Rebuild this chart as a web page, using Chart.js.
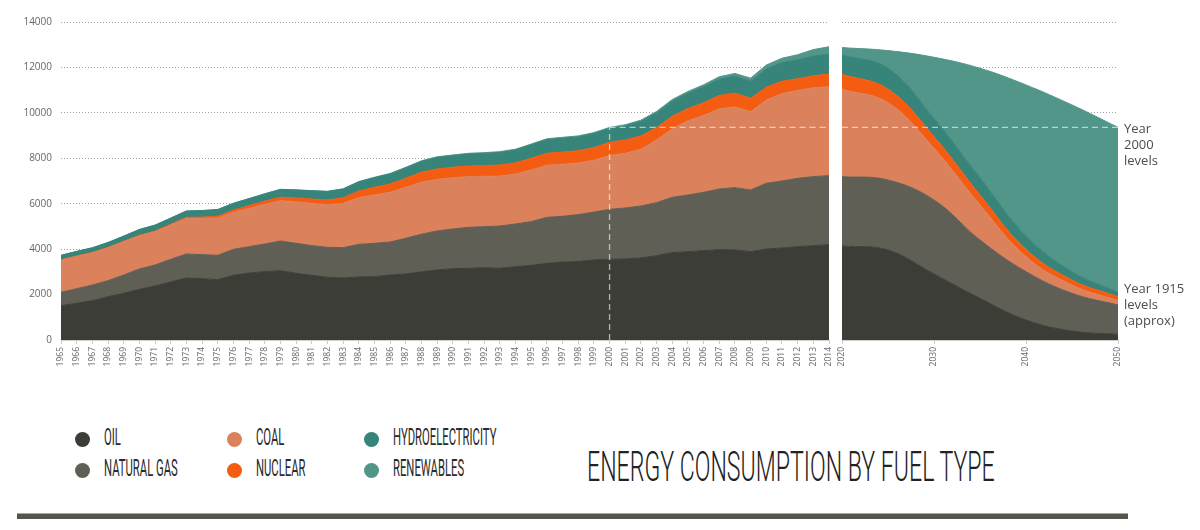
<!DOCTYPE html>
<html><head><meta charset="utf-8">
<script src="https://cdn.jsdelivr.net/npm/chart.js@4.4.1/dist/chart.umd.min.js"></script>
<style>
html,body{margin:0;padding:0;background:#fff;}
body{width:1200px;height:530px;position:relative;overflow:hidden;font-family:'Open Sans',sans-serif;}
#cl{position:absolute;left:0;top:0;}
#cr{position:absolute;left:836px;top:0;}
.note{position:absolute;left:1124px;font:13px/16px 'Open Sans',sans-serif;color:#4d4d4d;white-space:nowrap;}
#legend{position:absolute;left:75px;top:425px;display:grid;grid-template-columns:152px 137px 200px;grid-template-rows:31px 31px;grid-auto-flow:column;}
.item{position:relative;}
.dot{position:absolute;left:0;top:6.5px;width:15px;height:15px;border-radius:50%;}
.lt{position:absolute;left:29px;top:0;font:400 24px/24px Roboto,sans-serif;color:#2a2a2a;white-space:nowrap;transform-origin:0 0;transform:scaleX(0.47);}
#title{position:absolute;left:587px;top:446px;font:300 42px/42px Roboto,sans-serif;color:#222;white-space:nowrap;transform-origin:0 0;}
#bar{position:absolute;left:17px;top:513px;width:1111px;height:5px;background:#55554b;border-top:1px solid #a9a8a0;}
</style></head>
<body>
<canvas id="cl" width="836" height="380"></canvas>
<canvas id="cr" width="289" height="380"></canvas>
<div class="note" style="top:120px">Year<br>2000<br>levels</div>
<div class="note" style="top:280px">Year 1915<br>levels<br>(approx)</div>
<div id="legend"></div>
<div id="title">ENERGY CONSUMPTION BY FUEL TYPE</div>
<div id="bar"></div>
<script>
// ---------- DATA ----------
const years = ['1965','1966','1967','1968','1969','1970','1971','1972','1973','1974',
  '1975','1976','1977','1978','1979','1980','1981','1982','1983','1984',
  '1985','1986','1987','1988','1989','1990','1991','1992','1993','1994',
  '1995','1996','1997','1998','1999','2000','2001','2002','2003','2004',
  '2005','2006','2007','2008','2009','2010','2011','2012','2013','2014'];
const oil = [1512,1614,1732,1908,2055,2231,2378,2554,2730,2701,
  2657,2848,2950,3009,3053,2936,2848,2760,2730,2774,
  2789,2862,2906,3000,3082,3141,3155,3185,3155,3229,
  3287,3376,3430,3455,3523,3560,3567,3611,3713,3845,
  3890,3934,3978,3963,3890,4007,4051,4110,4154,4198];
const naturalGas = [587,646,690,705,807,895,924,998,1057,1057,
  1071,1144,1160,1218,1306,1321,1306,1320,1336,1438,
  1468,1453,1571,1660,1718,1747,1806,1805,1865,1879,
  1924,2026,2015,2065,2107,2194,2245,2289,2334,2437,
  2495,2568,2671,2745,2715,2892,2950,3009,3038,3038];
const coal = [1424,1430,1420,1453,1468,1468,1468,1512,1570,1599,
  1644,1630,1687,1747,1776,1834,1864,1879,1952,2055,
  2128,2187,2246,2290,2275,2260,2231,2217,2201,2201,
  2275,2290,2297,2275,2280,2366,2408,2496,2760,3018,
  3265,3383,3531,3552,3449,3669,3849,3866,3913,3914];
const nuclear = [6,8,9,12,14,18,25,35,45,55,
  80,95,120,140,150,160,190,210,240,290,
  340,370,400,440,455,456,470,470,485,490,
  514,528,535,540,559,584,587,587,545,555,
  540,560,585,610,590,560,545,515,530,560];
const hydro = [196,200,205,210,225,250,258,264,272,283,
  287,297,301,315,339,348,356,364,382,400,
  418,436,454,472,505,510,525,538,552,565,
  590,600,607,608,617,610,620,640,645,660,
  675,700,715,745,740,800,815,835,865,870];
const renewables = [4,4,5,5,5,6,6,6,7,7,
  8,8,9,10,11,12,14,16,18,20,
  22,24,26,28,30,32,33,34,35,36,
  37,38,40,42,44,45,50,55,65,72,
  78,90,110,120,145,175,195,225,285,330];

const projYears = [2020,2025,2030,2035,2040,2045,2050];
const oilProj = [4139,3960,2906,1835,881,396,249];
const gasProj = [3053,3085,3259,2568,2128,1659,1292];
const coalProj = [3846,3400,2275,1542,661,367,191];
const nuclearProj = [660,600,514,440,322,220,176];
const hydroProj = [852,920,800,760,600,367,191];
const renewablesProj = [323,775,2693,4817,6637,7339,7265];

const yTicks = [0,2000,4000,6000,8000,10000,12000,14000];
const projTicks = [2020,2030,2040,2050];

const seriesNames = ['OIL','NATURAL GAS','COAL','NUCLEAR','HYDROELECTRICITY','RENEWABLES'];
const seriesColors = ['#3d3d38','#605f55','#db825d','#f45c12','#37847a','#52968a'];

// ---------- BUILD ----------
const hist = [oil,naturalGas,coal,nuclear,hydro,renewables];
const proj = [oilProj,gasProj,coalProj,nuclearProj,hydroProj,renewablesProj];
const idx2000 = years.indexOf('2000');
const level2000 = hist.reduce((s,a)=>s+a[idx2000],0);

function makeSets(series, xs, smooth){
  return series.map((vals,i)=>({
    label: seriesNames[i],
    data: xs ? vals.map((v,j)=>({x:xs[j],y:v})) : vals,
    backgroundColor: seriesColors[i],
    borderColor: seriesColors[i],
    borderWidth: 1,
    fill: i===0 ? 'origin' : '-1',
    pointRadius: 0, pointHoverRadius: 0,
    tension: smooth ? 0.4 : 0
  }));
}

const dashPlugin = {
  id: 'dashlevel',
  afterDatasetsDraw(chart, args, opts){
    const {ctx, chartArea:a, scales} = chart;
    const yy = scales.y.getPixelForValue(level2000);
    ctx.save();
    ctx.strokeStyle = 'rgba(255,255,255,0.6)';
    ctx.lineWidth = 1.3;
    ctx.setLineDash([6,4]);
    ctx.beginPath();
    let x0 = a.left;
    if (opts.vIndex !== undefined){
      x0 = scales.x.getPixelForValue(opts.vIndex, opts.vIndex);
      ctx.moveTo(x0, a.bottom); ctx.lineTo(x0, yy);
      ctx.stroke();
      ctx.beginPath();
    }
    ctx.moveTo(x0, yy); ctx.lineTo(a.right, yy);
    ctx.stroke();
    ctx.restore();
  }
};

Chart.defaults.font.family = "'Open Sans', sans-serif";
Chart.defaults.animation = false;

const gridY = {color:'#a0a0a0', lineWidth:1, drawTicks:false};
const commonPlugins = {legend:{display:false}, tooltip:{enabled:false}};

new Chart(document.getElementById('cl'), {
  type:'line',
  data:{labels:years, datasets:makeSets(hist, null, false)},
  plugins:[dashPlugin],
  options:{
    responsive:false,
    layout:{padding:{top:22,right:7,bottom:0,left:0}},
    plugins:Object.assign({dashlevel:{vIndex:idx2000}}, commonPlugins),
    scales:{
      x:{type:'category', offset:false,
        grid:{display:true, drawOnChartArea:false, drawTicks:true, tickLength:4, color:'#c8c8c8'},
        border:{display:true, color:'#cfcfcf'},
        ticks:{autoSkip:false, minRotation:90, maxRotation:90, padding:3, color:'#666', font:{size:8.5}},
        afterFit(s){ s.height=40; s.paddingLeft=0; s.paddingRight=0; }
      },
      y:{stacked:true, min:0, max:14000,
        afterBuildTicks(s){ s.ticks = yTicks.map(v=>({value:v})); },
        grid:gridY, border:{display:false, dash:[1,2]},
        ticks:{padding:9, color:'#666', font:{size:10}, callback:v=>String(v)},
        afterFit(s){ s.width=61; s.paddingTop=0; s.paddingBottom=0; }
      }
    }
  }
});

new Chart(document.getElementById('cr'), {
  type:'line',
  data:{datasets:makeSets(proj, projYears, true)},
  plugins:[dashPlugin],
  options:{
    responsive:false,
    layout:{padding:{top:22,right:7,bottom:0,left:0}},
    plugins:Object.assign({dashlevel:{}}, commonPlugins),
    scales:{
      x:{type:'linear', min:projYears[0], max:projYears[projYears.length-1],
        afterBuildTicks(s){ s.ticks = projTicks.map(v=>({value:v})); },
        grid:{display:true, drawOnChartArea:false, drawTicks:true, tickLength:4, color:'#c8c8c8'},
        border:{display:true, color:'#cfcfcf'},
        ticks:{minRotation:90, maxRotation:90, padding:3, color:'#666', font:{size:8.5}, callback:v=>String(v)},
        afterFit(s){ s.height=40; s.paddingLeft=0; s.paddingRight=0; }
      },
      y:{stacked:true, min:0, max:14000,
        afterBuildTicks(s){ s.ticks = yTicks.map(v=>({value:v})); },
        grid:gridY, border:{display:false, dash:[1,2]},
        ticks:{display:false},
        afterFit(s){ s.width=6; s.paddingTop=0; s.paddingBottom=0; }
      }
    }
  }
});

// ---------- LEGEND ----------
const lg = document.getElementById('legend');
seriesNames.forEach((n,i)=>{
  const it = document.createElement('div'); it.className='item';
  const d = document.createElement('div'); d.className='dot'; d.style.background=seriesColors[i];
  const t = document.createElement('div'); t.className='lt'; t.textContent=n;
  it.appendChild(d); it.appendChild(t); lg.appendChild(it);
});
const ttl = document.getElementById('title');
ttl.style.transform = 'scaleX(' + (408/ttl.offsetWidth) + ')';
</script>
</body></html>
